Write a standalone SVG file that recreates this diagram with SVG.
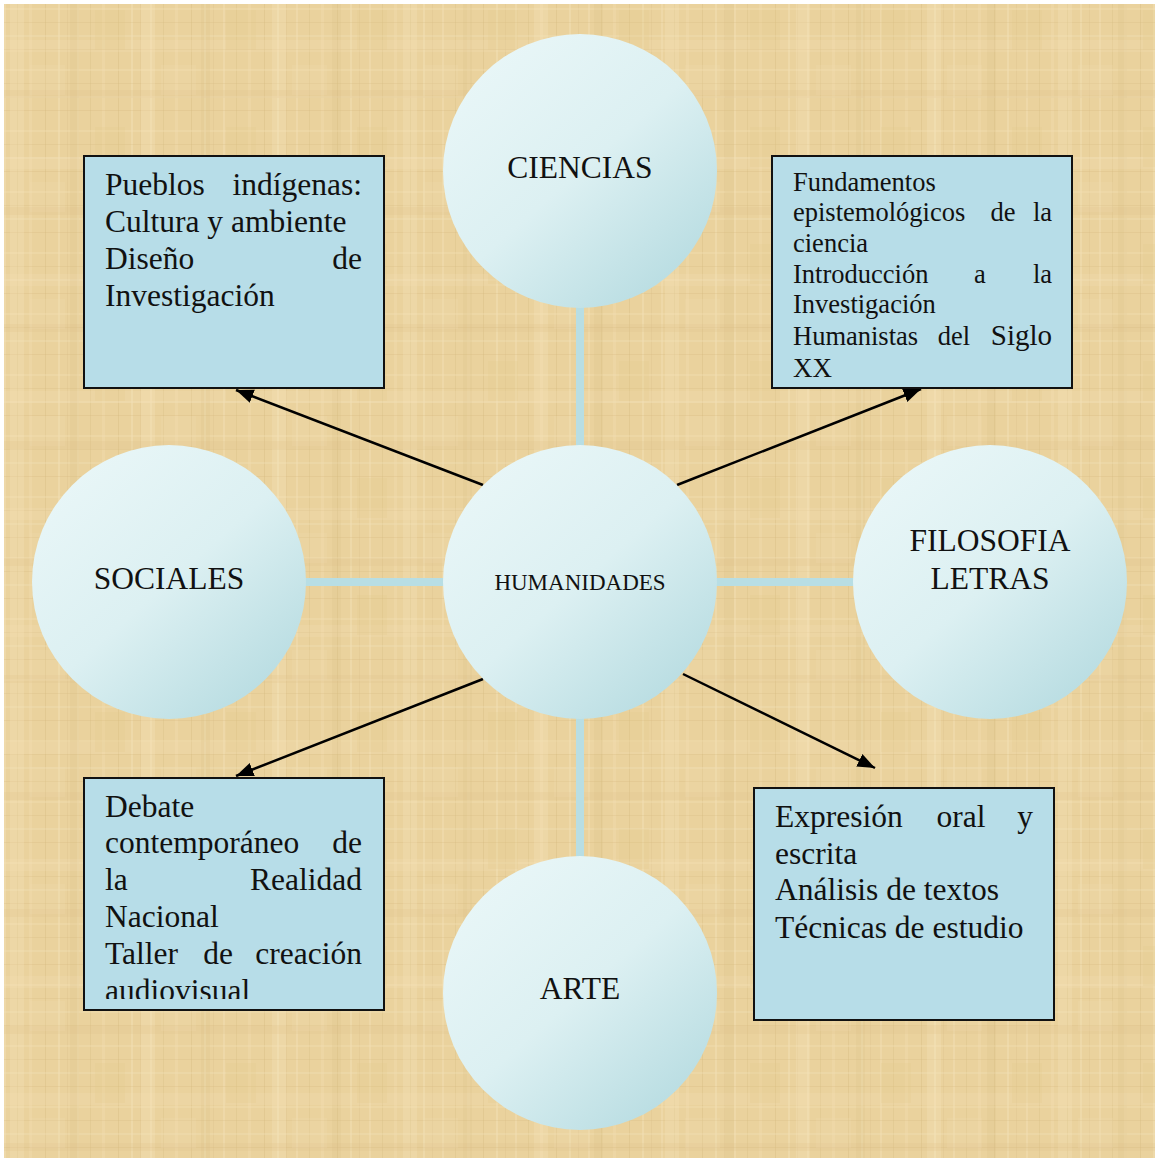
<svg xmlns="http://www.w3.org/2000/svg" width="1159" height="1162" viewBox="0 0 1159 1162">
  <defs>
    <style>
      .lbl { font-family: "Liberation Serif", "Times New Roman", serif; fill: #111; }
      .big { font-size: 31.5px; }
      .mid { font-size: 26.5px; }
      .circle { fill: url(#cg); }
      .box { fill: #B7DDE8; stroke: #111; stroke-width: 2; }
      .link { stroke: #B8DEE4; stroke-width: 8; fill: none; }
      .arrow { stroke: #000; stroke-width: 2.5; fill: none; marker-end: url(#ah); }
    </style>
    <linearGradient id="cg" x1="0.15" y1="0.1" x2="0.85" y2="0.9">
      <stop offset="0" stop-color="#E8F6F7"/>
      <stop offset="0.5" stop-color="#DCF0F2"/>
      <stop offset="1" stop-color="#B9DDE2"/>
    </linearGradient>
    <marker id="ah" viewBox="0 0 10 8" refX="10" refY="4" markerWidth="7" markerHeight="6" orient="auto" markerUnits="strokeWidth">
      <path d="M0,0 L10,4 L0,8 Z" fill="#000"/>
    </marker>
    <pattern id="tex1" width="73" height="61" patternUnits="userSpaceOnUse">
      <rect width="73" height="61" fill="#EAD29D"/>
      <rect x="4" y="0" width="2" height="61" fill="#F4E2B8" opacity="0.4"/>
      <rect x="17" y="0" width="1" height="61" fill="#D6B97E" opacity="0.3"/>
      <rect x="29" y="0" width="3" height="61" fill="#F2DDB0" opacity="0.35"/>
      <rect x="45" y="0" width="1" height="61" fill="#D3B479" opacity="0.3"/>
      <rect x="58" y="0" width="2" height="61" fill="#F5E4BC" opacity="0.4"/>
      <rect x="67" y="0" width="1" height="61" fill="#D8BC82" opacity="0.25"/>
      <rect x="0" y="8" width="73" height="2" fill="#F3E0B4" opacity="0.35"/>
      <rect x="0" y="22" width="73" height="1" fill="#D5B77C" opacity="0.25"/>
      <rect x="0" y="35" width="73" height="2" fill="#F4E3BA" opacity="0.3"/>
      <rect x="0" y="49" width="73" height="1" fill="#D2B378" opacity="0.25"/>
    </pattern>
    <pattern id="tex2" width="131" height="117" patternUnits="userSpaceOnUse">
      <rect x="10" y="0" width="14" height="117" fill="#F6E6C0" opacity="0.25"/>
      <rect x="70" y="0" width="9" height="117" fill="#D9BC80" opacity="0.2"/>
      <rect x="0" y="40" width="131" height="12" fill="#F5E3BA" opacity="0.2"/>
      <rect x="0" y="90" width="131" height="8" fill="#DCC086" opacity="0.2"/>
      <rect x="95" y="10" width="30" height="40" fill="#E0C688" opacity="0.2"/>
      <rect x="30" y="65" width="35" height="30" fill="#F2DEB0" opacity="0.2"/>
    </pattern>
    <clipPath id="clipBL">
      <rect x="84" y="778" width="300" height="221"/>
    </clipPath>
  </defs>

  <rect width="1159" height="1162" fill="#FFFFFF"/>
  <rect x="4" y="4" width="1151" height="1154" fill="url(#tex1)"/>
  <rect x="4" y="4" width="1151" height="1154" fill="url(#tex2)"/>

  <g id="connectors">
    <line class="link" x1="580" y1="300" x2="580" y2="452"/>
    <line class="link" x1="580" y1="712" x2="580" y2="864"/>
    <line class="link" x1="300" y1="582" x2="450" y2="582"/>
    <line class="link" x1="710" y1="582" x2="860" y2="582"/>
    <line class="arrow" x1="483" y1="485" x2="236" y2="390"/>
    <line class="arrow" x1="677" y1="485" x2="921" y2="389"/>
    <line class="arrow" x1="483" y1="679" x2="236" y2="776"/>
    <line class="arrow" x1="683" y1="674" x2="875" y2="768"/>
  </g>

  <g id="ciencias">
    <circle class="circle" cx="580" cy="171" r="137"/>
    <text class="lbl big" x="580" y="178" text-anchor="middle">CIENCIAS</text>
  </g>

  <g id="humanidades">
    <circle class="circle" cx="580" cy="582" r="137"/>
    <text class="lbl" x="580" y="590" text-anchor="middle" font-size="23">HUMANIDADES</text>
  </g>

  <g id="sociales">
    <circle class="circle" cx="169" cy="582" r="137"/>
    <text class="lbl big" x="169" y="589" text-anchor="middle">SOCIALES</text>
  </g>

  <g id="filosofia">
    <circle class="circle" cx="990" cy="582" r="137"/>
    <text class="lbl big" x="990" y="551" text-anchor="middle">FILOSOFIA</text>
    <text class="lbl big" x="990" y="589" text-anchor="middle">LETRAS</text>
  </g>

  <g id="arte">
    <circle class="circle" cx="580" cy="993" r="137"/>
    <text class="lbl big" x="580" y="999" text-anchor="middle">ARTE</text>
  </g>

  <g id="box-top-left">
    <rect class="box" x="84" y="156" width="300" height="232"/>
    <text class="lbl big" x="105" y="195">Pueblos</text>
    <text class="lbl big" x="362" y="195" text-anchor="end">indígenas:</text>
    <text class="lbl big" x="105" y="232">Cultura y ambiente</text>
    <text class="lbl big" x="105" y="269">Diseño</text>
    <text class="lbl big" x="362" y="269" text-anchor="end">de</text>
    <text class="lbl big" x="105" y="306">Investigación</text>
  </g>

  <g id="box-top-right">
    <rect class="box" x="772" y="156" width="300" height="232"/>
    <text class="lbl mid" x="793" y="191">Fundamentos</text>
    <text class="lbl mid" x="793" y="221">epistemológicos</text>
    <text class="lbl mid" x="1003" y="221" text-anchor="middle">de</text>
    <text class="lbl mid" x="1052" y="221" text-anchor="end">la</text>
    <text class="lbl mid" x="793" y="252">ciencia</text>
    <text class="lbl mid" x="793" y="283">Introducción</text>
    <text class="lbl mid" x="980" y="283" text-anchor="middle">a</text>
    <text class="lbl mid" x="1052" y="283" text-anchor="end">la</text>
    <text class="lbl mid" x="793" y="313">Investigación</text>
    <text class="lbl mid" x="793" y="345">Humanistas</text>
    <text class="lbl mid" x="954" y="345" text-anchor="middle">del</text>
    <text class="lbl" x="1052" y="345" text-anchor="end" font-size="29">Siglo</text>
    <text class="lbl" x="793" y="377" font-size="27">XX</text>
  </g>

  <g id="box-bottom-left">
    <rect class="box" x="84" y="778" width="300" height="232"/>
    <g clip-path="url(#clipBL)">
      <text class="lbl big" x="105" y="817">Debate</text>
      <text class="lbl big" x="105" y="853">contemporáneo</text>
      <text class="lbl big" x="362" y="853" text-anchor="end">de</text>
      <text class="lbl big" x="105" y="890">la</text>
      <text class="lbl big" x="362" y="890" text-anchor="end">Realidad</text>
      <text class="lbl big" x="105" y="927">Nacional</text>
      <text class="lbl big" x="105" y="964">Taller</text>
      <text class="lbl big" x="218" y="964" text-anchor="middle">de</text>
      <text class="lbl big" x="362" y="964" text-anchor="end">creación</text>
      <text class="lbl big" x="105" y="1001">audiovisual</text>
    </g>
  </g>

  <g id="box-bottom-right">
    <rect class="box" x="754" y="788" width="300" height="232"/>
    <text class="lbl big" x="775" y="827">Expresión</text>
    <text class="lbl big" x="961" y="827" text-anchor="middle">oral</text>
    <text class="lbl big" x="1033" y="827" text-anchor="end">y</text>
    <text class="lbl big" x="775" y="864">escrita</text>
    <text class="lbl big" x="775" y="900">Análisis de textos</text>
    <text class="lbl big" x="775" y="938">Técnicas de estudio</text>
  </g>
</svg>
